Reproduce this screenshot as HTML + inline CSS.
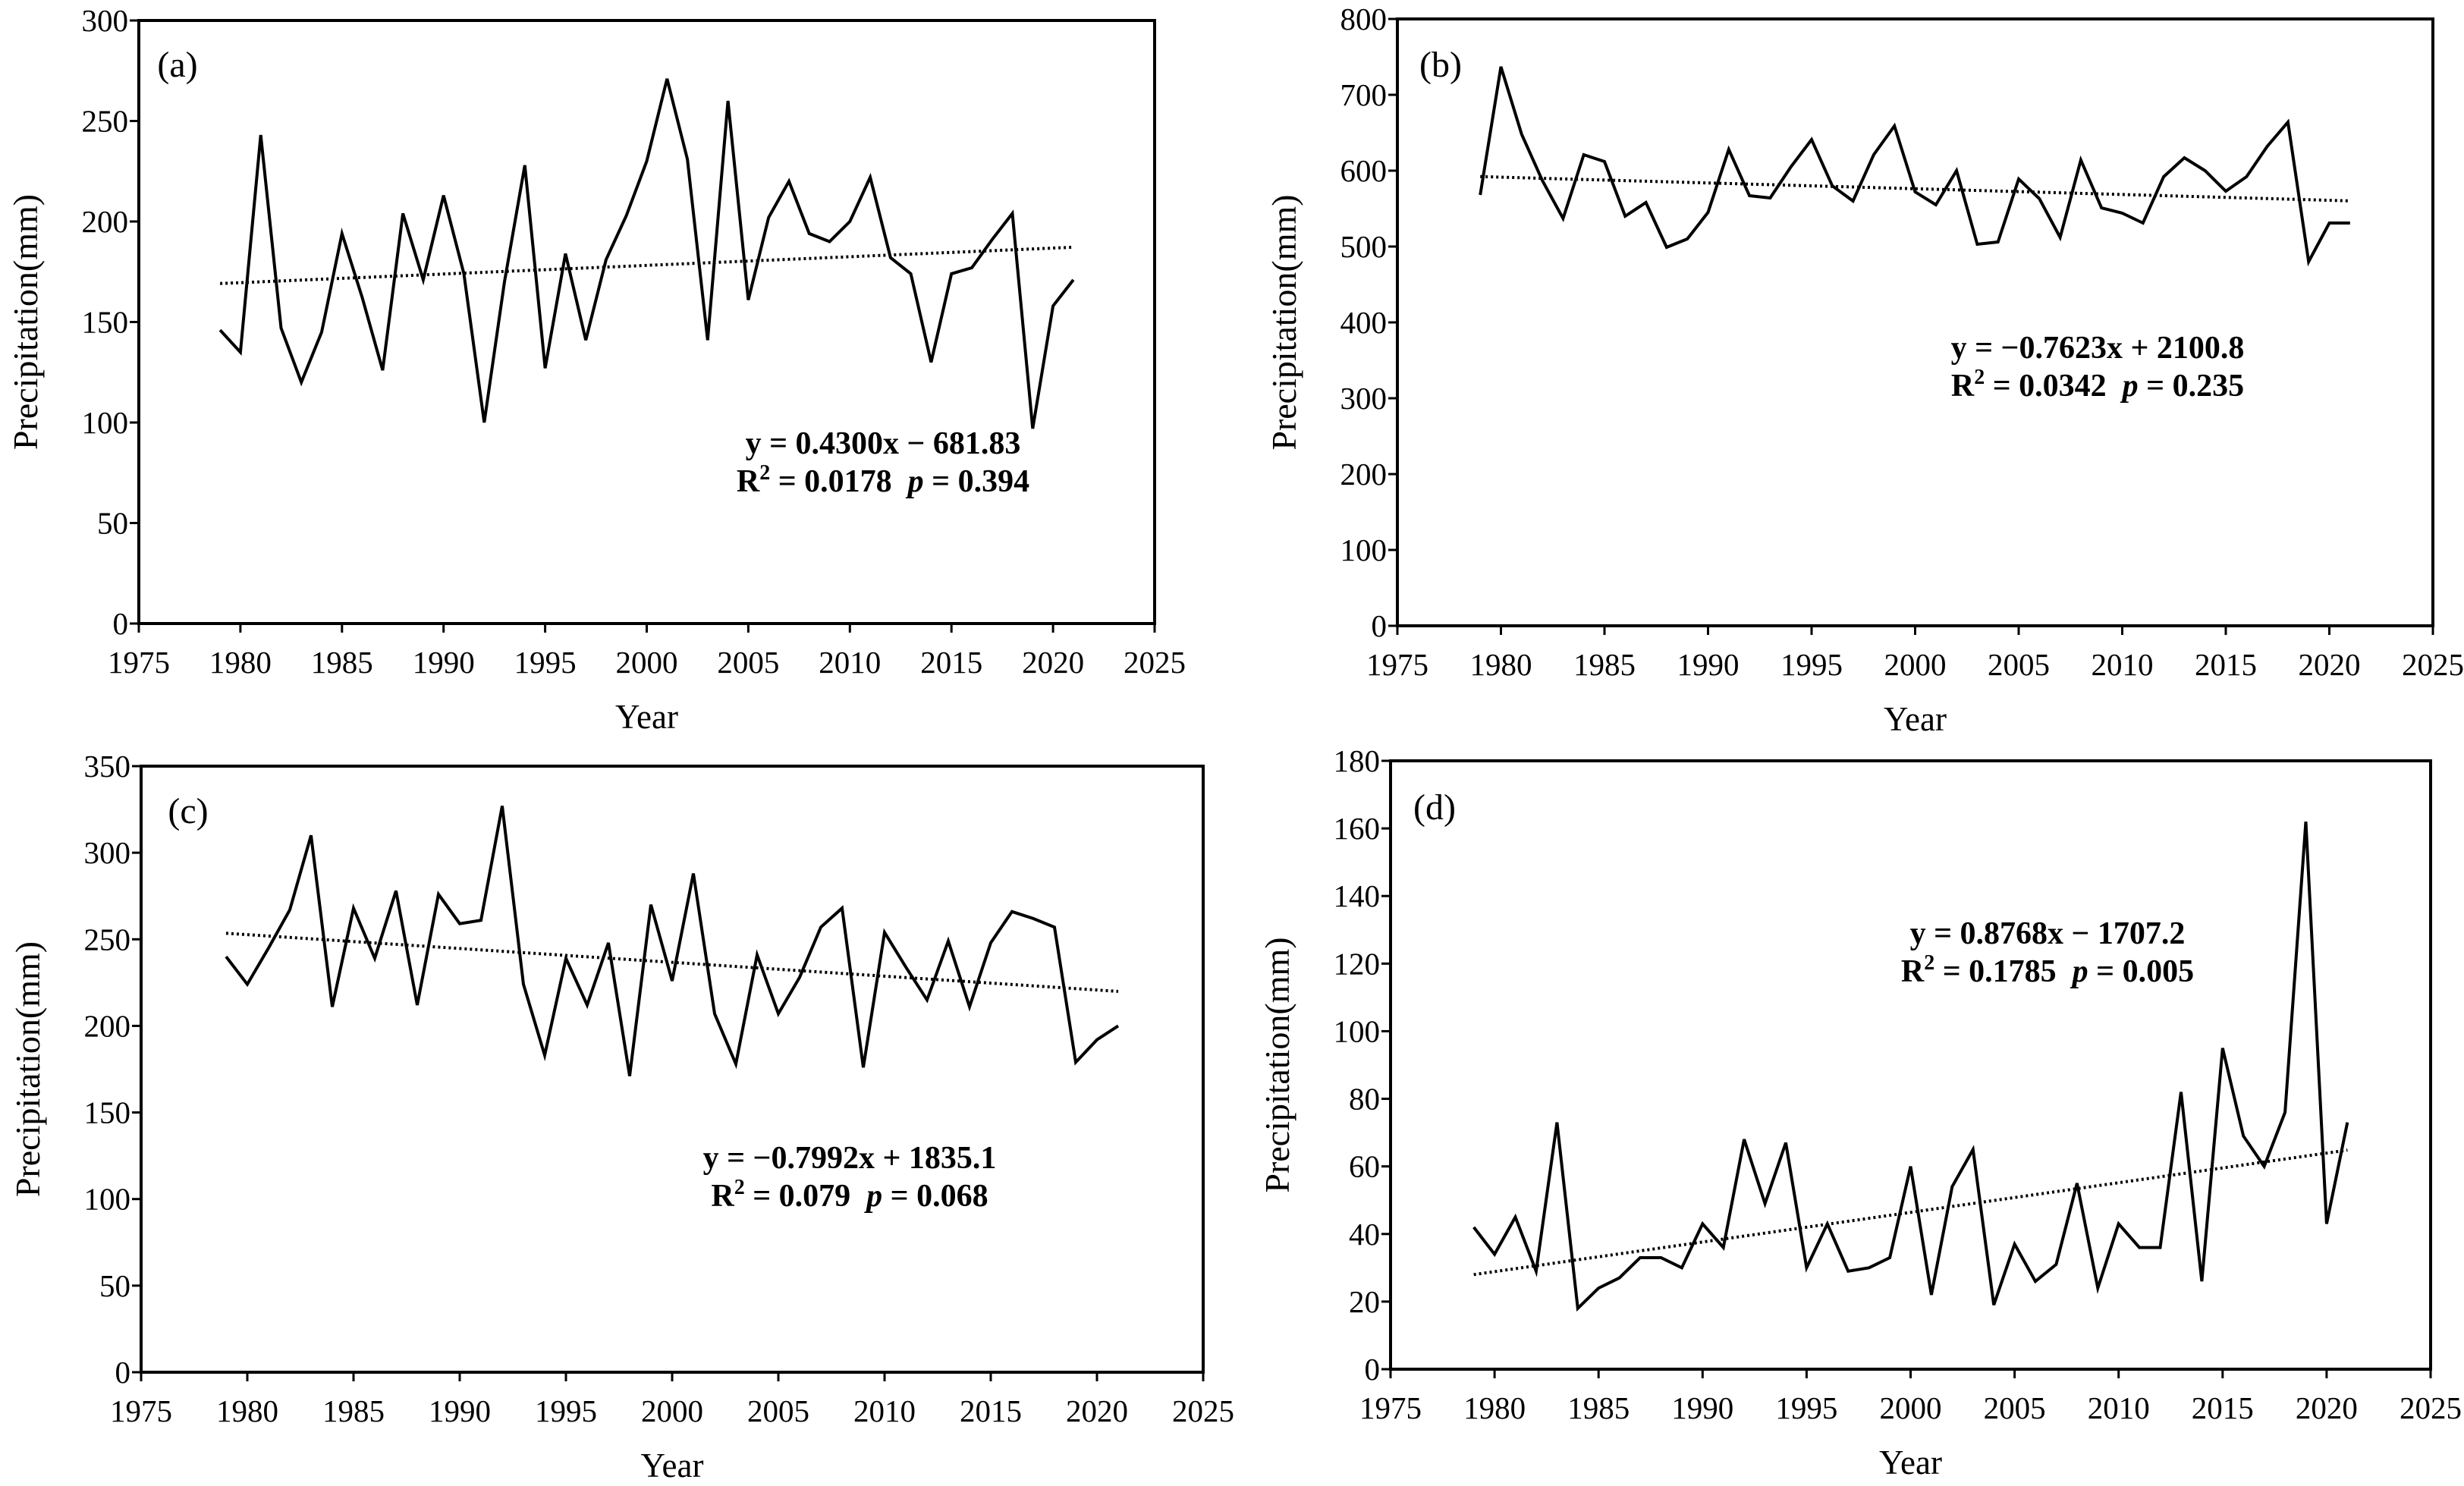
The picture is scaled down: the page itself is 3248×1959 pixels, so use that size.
<!DOCTYPE html>
<html><head><meta charset="utf-8"><style>
html,body{margin:0;padding:0;background:#fff;}
svg{display:block;font-family:"Liberation Serif",serif;}
</style></head>
<body>
<svg id="fig" width="3248" height="1959" viewBox="0 0 3248 1959" xmlns="http://www.w3.org/2000/svg"></svg>
<script>
const years = [];
for (let y = 1979; y <= 2021; y++) years.push(y);
const xTicks = [1975,1980,1985,1990,1995,2000,2005,2010,2015,2020,2025];
const seriesA = [146,135,243,147,120,145,194,162,126,204,171,213,174,100,170,228,127,184,141,181,203,230,271,231,141,260,161,202,220,194,190,200,222,182,174,130,174,177,191,204,97,158,171];
const seriesB = [568,737,648,587,537,621,612,540,558,499,510,545,628,567,564,605,641,580,560,621,659,572,555,600,503,506,589,563,512,614,551,544,531,592,617,600,573,592,632,664,480,531,531];
const seriesC = [240,224,245,267,310,211,268,239,278,212,276,259,261,327,224,183,239,212,248,171,270,226,288,207,178,241,207,228,257,268,176,254,234,215,249,211,248,266,262,257,179,192,200];
const seriesD = [42,34,45,29,73,18,24,27,33,33,30,43,36,68,49,67,30,43,29,30,33,60,22,54,65,19,37,26,31,55,24,43,36,36,82,26,95,69,60,76,162,43,73];
const yTicksA = [0,50,100,150,200,250,300];
const yTicksB = [0,100,200,300,400,500,600,700,800];
const yTicksC = [0,50,100,150,200,250,300,350];
const yTicksD = [0,20,40,60,80,100,120,140,160,180];
const trendA = [0.4300, -681.83];
const trendB = [-0.7623, 2100.8];
const trendC = [-0.7992, 1835.1];
const trendD = [0.8768, -1707.2];

const NS = "http://www.w3.org/2000/svg";
const svg = document.getElementById('fig');
function mk(tag, attrs, parent, text){
  const e = document.createElementNS(NS, tag);
  for (const k in attrs) e.setAttribute(k, attrs[k]);
  if (text !== undefined) e.textContent = text;
  parent.appendChild(e);
  return e;
}
const panels = [
  {id:'a', L:183, R:1522, T:27, B:822, data:seriesA, ticks:yTicksA, trend:trendA, eq1:'y = 0.4300x − 681.83', r2:'0.0178', p:'0.394', ex:1164, ey:584, lx:234, ly:85},
  {id:'b', L:1842, R:3207, T:25, B:825, data:seriesB, ticks:yTicksB, trend:trendB, eq1:'y = −0.7623x + 2100.8', r2:'0.0342', p:'0.235', ex:2765, ey:458, lx:1899, ly:85},
  {id:'c', L:186, R:1586, T:1010, B:1809, data:seriesC, ticks:yTicksC, trend:trendC, eq1:'y = −0.7992x + 1835.1', r2:'0.079', p:'0.068', ex:1120, ey:1526, lx:248, ly:1069},
  {id:'d', L:1833, R:3204, T:1003, B:1805, data:seriesD, ticks:yTicksD, trend:trendD, eq1:'y = 0.8768x − 1707.2', r2:'0.1785', p:'0.005', ex:2699, ey:1230, lx:1891, ly:1064}
];
panels.forEach(P => {
  const g = mk('g', {}, svg);
  
  
  const ymax = P.ticks[P.ticks.length-1];
  const sx = v => P.L + (v - 1975) / 50 * (P.R - P.L);
  const sy = v => P.B - v / ymax * (P.B - P.T);
  const fr = mk('rect', {x:P.L, y:P.T, width:P.R-P.L, height:P.B-P.T, fill:'none', stroke:'#000', 'stroke-width':4}, g);
  
  
  P.ticks.forEach(t => {
    mk('line', {x1:P.L-12, x2:P.L, y1:sy(t), y2:sy(t), stroke:'#000', 'stroke-width':3}, g);
    const tl = mk('text', {x:P.L-14, y:sy(t)+14, 'text-anchor':'end', 'font-size':41}, g, String(t));
    
    
  });
  xTicks.forEach(t => {
    mk('line', {x1:sx(t), x2:sx(t), y1:P.B, y2:P.B+12, stroke:'#000', 'stroke-width':3}, g);
    const tl = mk('text', {x:sx(t), y:P.B+65, 'text-anchor':'middle', 'font-size':41}, g, String(t));
    
    
  });
  const xt = mk('text', {x:(P.L+P.R)/2, y:P.B+138, 'text-anchor':'middle', 'font-size':45}, g, 'Year');
  
  
  const yx = P.L - 134, yy = (P.T+P.B)/2;
  const yt = mk('text', {x:yx, y:yy, 'text-anchor':'middle', 'font-size':46, transform:`rotate(-90 ${yx} ${yy})`}, g, 'Precipitation(mm)');
  
  
  const pl = mk('text', {x:P.lx, y:P.ly+16, 'text-anchor':'middle', 'font-size':48}, g, '(' + P.id + ')');
  
  
  const y0 = P.trend[0]*years[0]+P.trend[1], y1 = P.trend[0]*years[years.length-1]+P.trend[1];
  const tr = mk('line', {x1:sx(years[0]), y1:sy(y0), x2:sx(years[years.length-1]), y2:sy(y1), stroke:'#000', 'stroke-width':4, 'stroke-dasharray':'3 4'}, g);
  
  
  const pts = P.data.map((v,i) => sx(years[i]).toFixed(1) + ',' + sy(v).toFixed(1)).join(' ');
  const pl2 = mk('polyline', {points:pts, fill:'none', stroke:'#000', 'stroke-width':4, 'stroke-linejoin':'miter'}, g);
  
  
  const e1 = mk('text', {x:P.ex, y:P.ey+14, 'text-anchor':'middle', 'font-size':42, 'font-weight':'bold'}, g, P.eq1);
  
  
  const e2 = mk('text', {x:P.ex, y:P.ey+64, 'text-anchor':'middle', 'font-size':42, 'font-weight':'bold'}, g);
  
  
  mk('tspan', {}, e2, 'R');
  mk('tspan', {dy:-16, 'font-size':28}, e2, '2');
  mk('tspan', {dy:16}, e2, ' = ' + P.r2 + '\u00a0\u00a0');
  mk('tspan', {'font-style':'italic'}, e2, 'p');
  mk('tspan', {}, e2, ' = ' + P.p);
});
</script>
</body></html>
